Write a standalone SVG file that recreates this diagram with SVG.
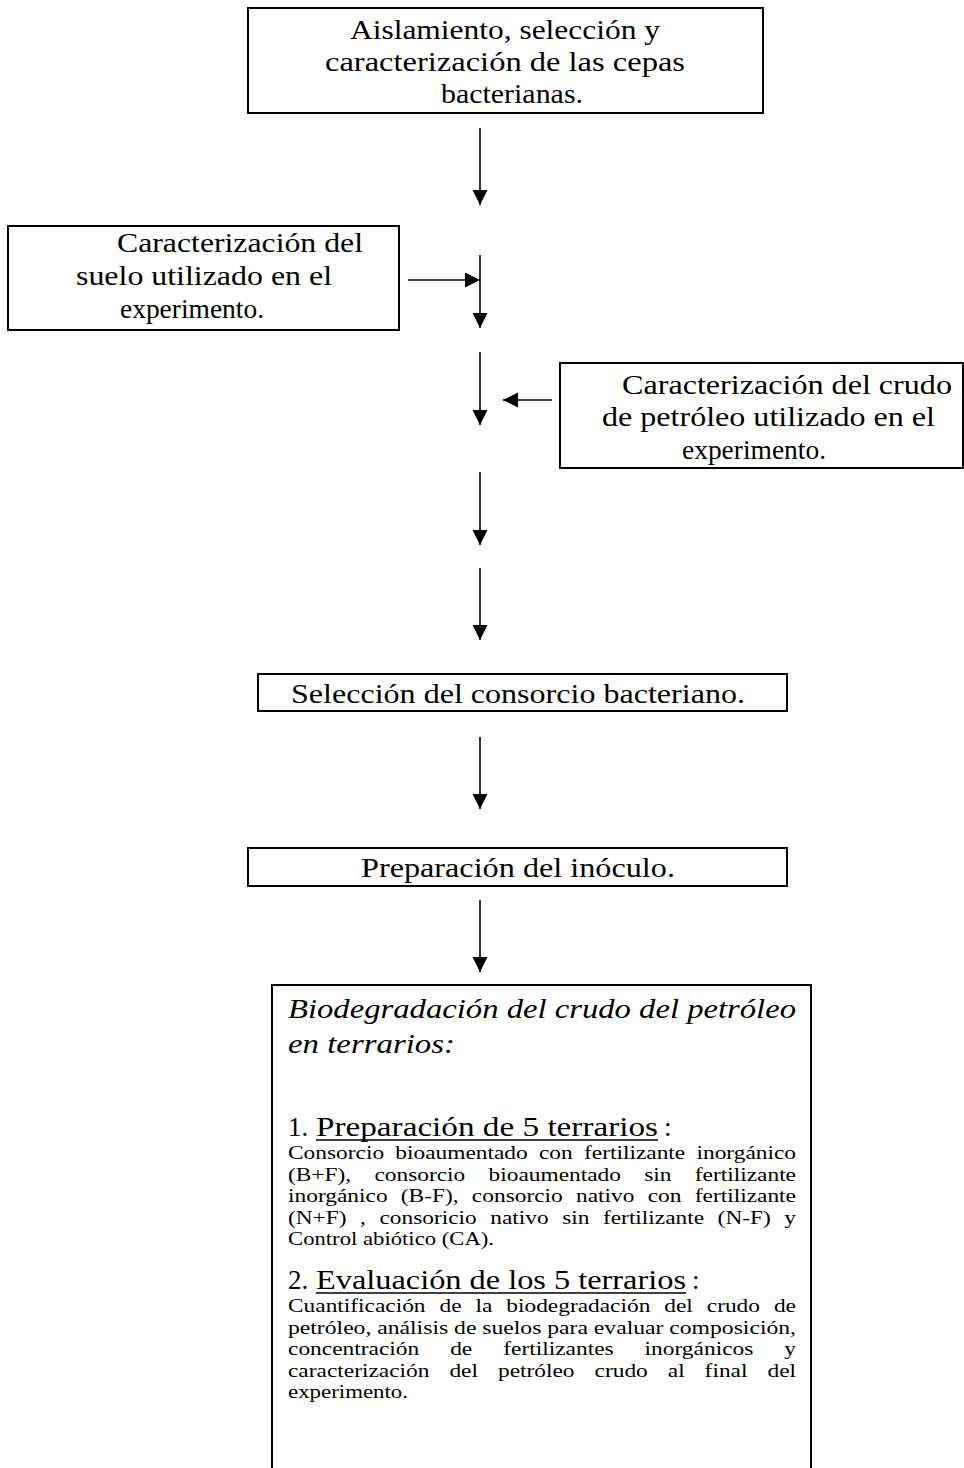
<svg xmlns="http://www.w3.org/2000/svg" width="964" height="1468" viewBox="0 0 964 1468">
<style>
.box{fill:#fff;stroke:#000;stroke-width:2}
.h{font-family:"Liberation Serif","Times New Roman",serif;font-size:27px;fill:#000}
.hi{font-family:"Liberation Serif","Times New Roman",serif;font-size:27px;font-style:italic;fill:#000}
.s{font-family:"Liberation Serif","Times New Roman",serif;font-size:19px;fill:#000}
.c{stroke:#000;stroke-width:1.6;fill:none;marker-end:url(#ah)}
.u{stroke:#000;stroke-width:1.4}
</style>
<defs>
<marker id="ah" markerUnits="userSpaceOnUse" markerWidth="16" markerHeight="16" refX="15" refY="7.5" orient="auto">
<path d="M0,0 L15,7.5 L0,15 z" fill="#000"/>
</marker>
</defs>
<rect width="964" height="1468" fill="#fff"/>
<g id="connectors">
<line class="c" x1="480" y1="128" x2="480" y2="205"/>
<line class="c" x1="480" y1="255" x2="480" y2="328"/>
<line class="c" x1="408" y1="280" x2="480" y2="280"/>
<line class="c" x1="480" y1="352" x2="480" y2="425"/>
<line class="c" x1="552" y1="400" x2="503" y2="400"/>
<line class="c" x1="480" y1="472" x2="480" y2="545"/>
<line class="c" x1="480" y1="568" x2="480" y2="640"/>
<line class="c" x1="480" y1="737" x2="480" y2="809"/>
<line class="c" x1="480" y1="900" x2="480" y2="972"/>
</g>
<g id="n1">
<rect class="box" x="248" y="8" width="515" height="105"/>
<text class="h" x="505" y="39" text-anchor="middle" textLength="310" lengthAdjust="spacingAndGlyphs">Aislamiento, selección y</text>
<text class="h" x="505" y="71" text-anchor="middle" textLength="360" lengthAdjust="spacingAndGlyphs">caracterización de las cepas</text>
<text class="h" x="512" y="103" text-anchor="middle" textLength="142" lengthAdjust="spacingAndGlyphs">bacterianas.</text>
</g>
<g id="n2">
<rect class="box" x="8" y="226" width="391" height="104"/>
<text class="h" x="117" y="252" textLength="246" lengthAdjust="spacingAndGlyphs">Caracterización del</text>
<text class="h" x="76" y="285" textLength="256" lengthAdjust="spacingAndGlyphs">suelo utilizado en el</text>
<text class="h" x="120" y="318" textLength="144" lengthAdjust="spacingAndGlyphs">experimento.</text>
</g>
<g id="n3">
<rect class="box" x="560" y="363" width="403" height="105"/>
<text class="h" x="622" y="394" textLength="330" lengthAdjust="spacingAndGlyphs">Caracterización del crudo</text>
<text class="h" x="602" y="426" textLength="333" lengthAdjust="spacingAndGlyphs">de petróleo utilizado en el</text>
<text class="h" x="682" y="459" textLength="144" lengthAdjust="spacingAndGlyphs">experimento.</text>
</g>
<g id="n4">
<rect class="box" x="258" y="674" width="529" height="37"/>
<text class="h" x="291" y="703" textLength="454" lengthAdjust="spacingAndGlyphs">Selección del consorcio bacteriano.</text>
</g>
<g id="n5">
<rect class="box" x="248" y="848" width="539" height="38"/>
<text class="h" x="361" y="877" textLength="314" lengthAdjust="spacingAndGlyphs">Preparación del inóculo.</text>
</g>
<g id="n6">
<rect class="box" x="272" y="985" width="539" height="520"/>
<text class="hi" x="288" y="1018" textLength="508" lengthAdjust="spacingAndGlyphs">Biodegradación del crudo del petróleo</text>
<text class="hi" x="288" y="1053" textLength="167" lengthAdjust="spacingAndGlyphs">en terrarios:</text>
<text class="h" x="288" y="1136">1.</text>
<text class="h" x="316" y="1136" textLength="342" lengthAdjust="spacingAndGlyphs">Preparación de  5 terrarios</text>
<line class="u" x1="316" y1="1140" x2="658" y2="1140"/>
<text class="h" x="664" y="1136">:</text>
<text class="s" x="288" y="1159" textLength="508" lengthAdjust="spacingAndGlyphs" word-spacing="4.4">Consorcio bioaumentado con fertilizante inorgánico</text>
<text class="s" x="288" y="1180.5" textLength="508" lengthAdjust="spacingAndGlyphs" word-spacing="14.2">(B+F), consorcio bioaumentado sin fertilizante</text>
<text class="s" x="288" y="1202" textLength="508" lengthAdjust="spacingAndGlyphs" word-spacing="6">inorgánico (B-F), consorcio nativo con fertilizante</text>
<text class="s" x="288" y="1223.5" textLength="508" lengthAdjust="spacingAndGlyphs" word-spacing="6.3">(N+F) , consoricio nativo sin fertilizante (N-F) y</text>
<text class="s" x="288" y="1245" textLength="206" lengthAdjust="spacingAndGlyphs">Control abiótico (CA).</text>
<text class="h" x="288" y="1289">2.</text>
<text class="h" x="316" y="1289" textLength="370" lengthAdjust="spacingAndGlyphs">Evaluación de los 5 terrarios</text>
<line class="u" x1="316" y1="1293" x2="686" y2="1293"/>
<text class="h" x="692" y="1289">:</text>
<text class="s" x="288" y="1312" textLength="508" lengthAdjust="spacingAndGlyphs" word-spacing="6.6">Cuantificación de la biodegradación del crudo de</text>
<text class="s" x="288" y="1333.5" textLength="508" lengthAdjust="spacingAndGlyphs">petróleo, análisis de suelos para evaluar composición,</text>
<text class="s" x="288" y="1355" textLength="508" lengthAdjust="spacingAndGlyphs" word-spacing="20.4">concentración de fertilizantes inorgánicos y</text>
<text class="s" x="288" y="1376.5" textLength="508" lengthAdjust="spacingAndGlyphs" word-spacing="11.5">caracterización del petróleo crudo al final del</text>
<text class="s" x="288" y="1398" textLength="120" lengthAdjust="spacingAndGlyphs">experimento.</text>
</g>
</svg>
